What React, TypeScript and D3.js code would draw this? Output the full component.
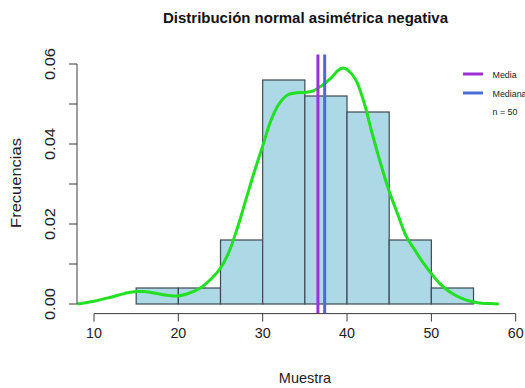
import React from "react";
import * as d3 from "d3";

const binStarts = [15, 20, 25, 30, 35, 40, 45, 50];
const binWidth = 5;
const binDensity = [0.004, 0.004, 0.016, 0.056, 0.052, 0.048, 0.016, 0.004];

const densityX = [8, 10, 12, 14, 15, 16, 18, 19.8, 21, 22.6, 24, 25, 26, 27, 28, 29, 30, 31, 32, 33, 34, 35, 36, 37, 38, 39, 39.5, 40, 41, 42, 43, 44, 45, 46, 47, 48, 49, 50, 51, 52, 53, 54, 55, 56, 57, 58];
const densityY = [0.0, 0.0007, 0.0017, 0.0028, 0.0031, 0.0031, 0.0024, 0.002, 0.0025, 0.004, 0.0065, 0.009, 0.013, 0.019, 0.026, 0.033, 0.0395, 0.046, 0.0502, 0.0523, 0.0528, 0.0529, 0.0533, 0.0546, 0.0563, 0.0585, 0.059, 0.0586, 0.0562, 0.0505, 0.0425, 0.035, 0.0282, 0.0225, 0.017, 0.0136, 0.0104, 0.0076, 0.0051, 0.0033, 0.002, 0.0011, 0.0005, 0.0002, 0.0001, 0.0];

const meanValue = 36.55;
const medianValue = 37.35;
const xTicks = [10, 20, 30, 40, 50, 60];
const yTicks = [0, 0.01, 0.02, 0.03, 0.04, 0.05, 0.06];
const yLabels = [0, 0.02, 0.04, 0.06];
const legendItems = [
  { label: "Media", color: "#9a32d6" },
  { label: "Mediana", color: "#4a6cd6" },
];
const sampleSize = 50;

export default function App() {
  const W = 525, H = 388;
  const x = d3.scaleLinear().domain([10, 60]).range([94, 515.7]);
  const y = d3.scaleLinear().domain([0, 0.06]).range([304, 64]);
  const plotTop = 54.4, plotBottom = 313.6, plotLeft = 77;
  const font = "'Liberation Sans', Arial, sans-serif";
  const line = d3.line<number>()
    .x((_, i) => x(densityX[i]))
    .y((d) => y(d))
    .curve(d3.curveCatmullRom.alpha(0.5));
  const axisColor = "#3c3c3c";
  return (
    <svg width={W} height={H} style={{ position: "absolute", left: 0, top: 0 }} fontFamily={font}>
      <rect width={W} height={H} fill="#fff" />
      <text x={305.5} y={23} textAnchor="middle" fontWeight="bold" fontSize={15} fill="#111">Distribución normal asimétrica negativa</text>
      {binStarts.map((s, i) => (
        <rect key={i} x={x(s)} y={y(binDensity[i])} width={x(s + binWidth) - x(s)} height={y(0) - y(binDensity[i])}
          fill="#add8e6" stroke="#3d4b52" strokeWidth={1.2} />
      ))}
      <path d={line(densityY) || ""} fill="none" stroke="#22e022" strokeWidth={3} />
      <line x1={x(meanValue)} x2={x(meanValue)} y1={plotTop} y2={plotBottom} stroke={legendItems[0].color} strokeWidth={3} />
      <line x1={x(medianValue)} x2={x(medianValue)} y1={plotTop} y2={plotBottom} stroke={legendItems[1].color} strokeWidth={3} />
      {/* x axis */}
      <line x1={x(10)} x2={x(60)} y1={plotBottom} y2={plotBottom} stroke={axisColor} strokeWidth={1} />
      {xTicks.map((t) => (
        <g key={t}>
          <line x1={x(t)} x2={x(t)} y1={plotBottom} y2={plotBottom + 8} stroke={axisColor} />
          <text x={x(t)} y={337.5} textAnchor="middle" fontSize={14.3} fill="#222">{t}</text>
        </g>
      ))}
      <text x={305} y={383} textAnchor="middle" fontSize={14.5} fill="#222">Muestra</text>
      {/* y axis */}
      <line x1={plotLeft} x2={plotLeft} y1={y(0)} y2={y(0.06)} stroke={axisColor} />
      {yTicks.map((t) => (
        <line key={t} x1={plotLeft - 8} x2={plotLeft} y1={y(t)} y2={y(t)} stroke={axisColor} />
      ))}
      {yLabels.map((t) => (
        <text key={t} transform={`translate(55,${y(t)}) rotate(-90) scale(1,0.86)`} textAnchor="middle" fontSize={16.5} fill="#222">{t.toFixed(2)}</text>
      ))}
      <text transform={`translate(20.5,183) rotate(-90) scale(1,0.86)`} textAnchor="middle" fontSize={16.5} fill="#222">Frecuencias</text>
      {/* legend */}
      {legendItems.map((it, i) => (
        <g key={it.label}>
          <line x1={463} x2={483} y1={74 + i * 19} y2={74 + i * 19} stroke={it.color} strokeWidth={3} />
          <text x={492.5} y={78 + i * 19.3} fontSize={8.9} fill="#222">{it.label}</text>
        </g>
      ))}
      <text x={492.5} y={115} fontSize={8.9} fill="#222">n = {sampleSize}</text>
    </svg>
  );
}
